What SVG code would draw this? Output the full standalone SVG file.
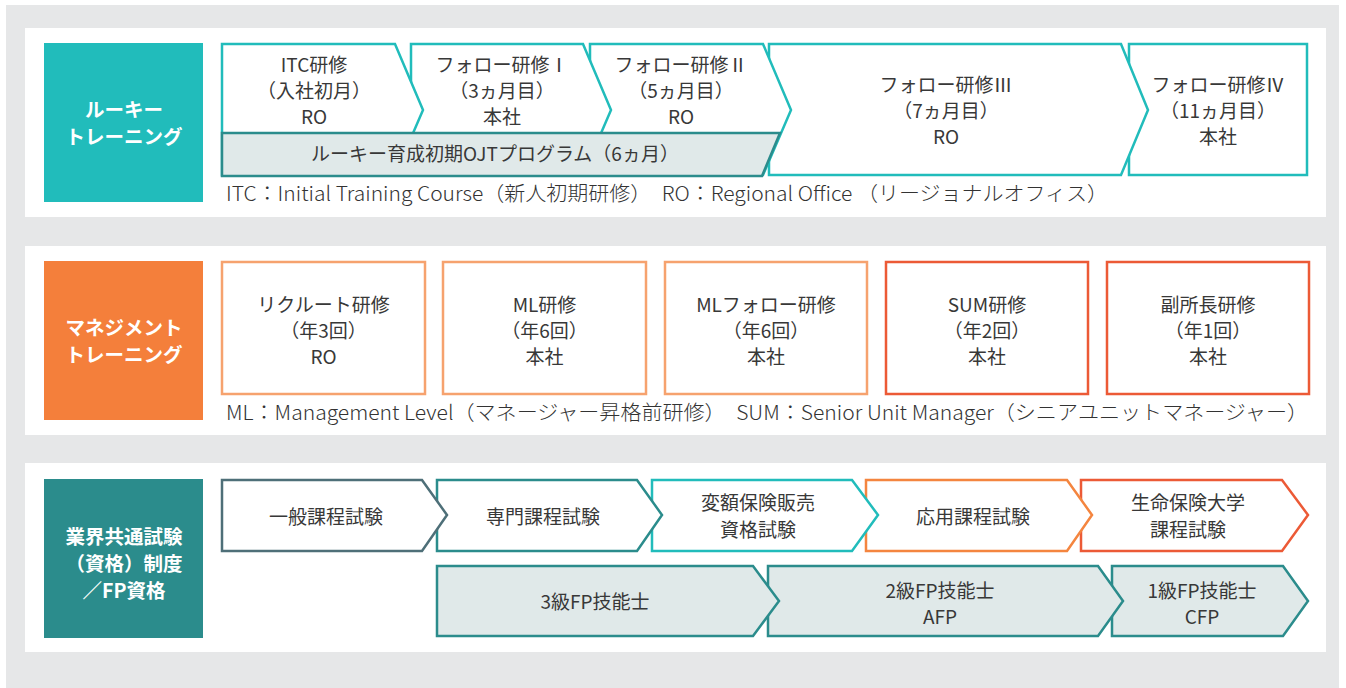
<svg xmlns="http://www.w3.org/2000/svg" width="1346" height="688" viewBox="0 0 1346 688">
<style>
text{font-family:"Noto Sans CJK JP","Noto Sans",sans-serif;fill:#383838;font-size:19px;font-weight:400;text-anchor:middle}
.lbl{fill:#fff;font-weight:700;font-size:19.5px}
.note{text-anchor:start;font-size:20px;font-weight:300;fill:#333}
.sw{stroke-width:2.5;fill:#fff}
.teal{stroke:#21bcbb}
.dteal{stroke:#2b8c8c}
.slate{stroke:#4e6f78}
.lor{stroke:#f6a26e}
.or{stroke:#f4853f}
.red{stroke:#ec5a36}
.gfill{fill:#e0e9e9}
</style>
<rect x="6" y="5" width="1333" height="683" fill="#e6e7e8"/>
<rect x="25" y="28" width="1301" height="189" fill="#fff"/>
<rect x="25" y="246" width="1301" height="189" fill="#fff"/>
<rect x="25" y="463" width="1301" height="189" fill="#fff"/>

<g id="connectors"/>

<!-- Panel 1 -->
<g id="label-rookie">
<rect x="44" y="43" width="159" height="159" fill="#21bcbb"/>
<text class="lbl" x="124" y="117">ルーキー</text>
<text class="lbl" x="124" y="144">トレーニング</text>
</g>
<g id="follow4">
<rect class="sw teal" x="1129" y="44" width="178" height="131"/>
<text x="1218" y="92">フォロー研修Ⅳ</text>
<text x="1218" y="118">（11ヵ月目）</text>
<text x="1218" y="144">本社</text>
</g>
<g id="follow3">
<path class="sw teal" d="M769,44 H1121 L1148,110 L1121,175 H769 Z"/>
<text x="946" y="92">フォロー研修Ⅲ</text>
<text x="946" y="118">（7ヵ月目）</text>
<text x="946" y="144">RO</text>
</g>
<g id="follow2">
<path class="sw teal" d="M590,44 H763 L791,110 L763,175 H590 Z"/>
<text x="681" y="72">フォロー研修Ⅱ</text>
<text x="681" y="98">（5ヵ月目）</text>
<text x="681" y="124">RO</text>
</g>
<g id="follow1">
<path class="sw teal" d="M411,44 H583 L611,110 L583,175 H411 Z"/>
<text x="502" y="72">フォロー研修Ⅰ</text>
<text x="502" y="98">（3ヵ月目）</text>
<text x="502" y="124">本社</text>
</g>
<g id="itc">
<path class="sw teal" d="M222,44 H395 L423,110 L395,175 H222 Z"/>
<text x="314" y="72">ITC研修</text>
<text x="314" y="98">（入社初月）</text>
<text x="314" y="124">RO</text>
</g>
<g id="ojt">
<path class="sw dteal gfill" d="M222,133 H780 L762,176 H222 Z"/>
<text x="495" y="161">ルーキー育成初期OJTプログラム（6ヵ月）</text>
</g>
<g id="note1">
<text class="note" x="226" y="201" textLength="882" lengthAdjust="spacingAndGlyphs">ITC：Initial Training Course（新人初期研修）　RO：Regional Office （リージョナルオフィス）</text>
</g>

<!-- Panel 2 -->
<g id="label-mgmt">
<rect x="44" y="261" width="159" height="159" fill="#f47f3b"/>
<text class="lbl" x="124" y="335">マネジメント</text>
<text class="lbl" x="124" y="362">トレーニング</text>
</g>
<g id="recruit">
<rect class="sw lor" x="222" y="262" width="203" height="132"/>
<text x="323.5" y="312">リクルート研修</text>
<text x="323.5" y="338">（年3回）</text>
<text x="323.5" y="364">RO</text>
</g>
<g id="ml">
<rect class="sw lor" x="443" y="262" width="203" height="132"/>
<text x="544.5" y="312">ML研修</text>
<text x="544.5" y="338">（年6回）</text>
<text x="544.5" y="364">本社</text>
</g>
<g id="mlfollow">
<rect class="sw lor" x="665" y="262" width="202" height="132"/>
<text x="766" y="312">MLフォロー研修</text>
<text x="766" y="338">（年6回）</text>
<text x="766" y="364">本社</text>
</g>
<g id="sum">
<rect class="sw red" x="886" y="262" width="202" height="132"/>
<text x="987" y="312">SUM研修</text>
<text x="987" y="338">（年2回）</text>
<text x="987" y="364">本社</text>
</g>
<g id="vicemgr">
<rect class="sw red" x="1107" y="262" width="202" height="132"/>
<text x="1208" y="312">副所長研修</text>
<text x="1208" y="338">（年1回）</text>
<text x="1208" y="364">本社</text>
</g>
<g id="note2">
<text class="note" x="226" y="420" textLength="1082" lengthAdjust="spacingAndGlyphs">ML：Management Level（マネージャー昇格前研修）　SUM：Senior Unit Manager（シニアユニットマネージャー）</text>
</g>

<!-- Panel 3 -->
<g id="label-exam">
<rect x="44" y="479" width="159" height="159" fill="#2b8c8c"/>
<text class="lbl" x="124" y="544">業界共通試験</text>
<text class="lbl" x="124" y="571">（資格）制度</text>
<text class="lbl" x="124" y="598">／FP資格</text>
</g>
<g id="univ">
<path class="sw red" d="M1081,480 H1282 L1308,515 L1282,551 H1081 Z"/>
<text x="1188" y="510">生命保険大学</text>
<text x="1188" y="537">課程試験</text>
</g>
<g id="applied">
<path class="sw or" d="M866,480 H1067 L1092,515 L1067,551 H866 Z"/>
<text x="973" y="524">応用課程試験</text>
</g>
<g id="variable">
<path class="sw teal" d="M652,480 H852 L878,515 L852,551 H652 Z"/>
<text x="758" y="510">変額保険販売</text>
<text x="758" y="537">資格試験</text>
</g>
<g id="special">
<path class="sw dteal" d="M437,480 H637 L662,515 L637,551 H437 Z"/>
<text x="543" y="524">専門課程試験</text>
</g>
<g id="general">
<path class="sw slate" d="M222,480 H422 L447,515 L422,551 H222 Z"/>
<text x="326" y="524">一般課程試験</text>
</g>
<g id="fp1">
<path class="sw dteal gfill" d="M1112,566 H1283 L1308,601 L1283,636 H1112 Z"/>
<text x="1202" y="598">1級FP技能士</text>
<text x="1202" y="624">CFP</text>
</g>
<g id="fp2">
<path class="sw dteal gfill" d="M768,566 H1098 L1123,601 L1098,636 H768 Z"/>
<text x="940" y="598">2級FP技能士</text>
<text x="940" y="624">AFP</text>
</g>
<g id="fp3">
<path class="sw dteal gfill" d="M437,566 H753 L779,601 L753,636 H437 Z"/>
<text x="595" y="609">3級FP技能士</text>
</g>
</svg>
